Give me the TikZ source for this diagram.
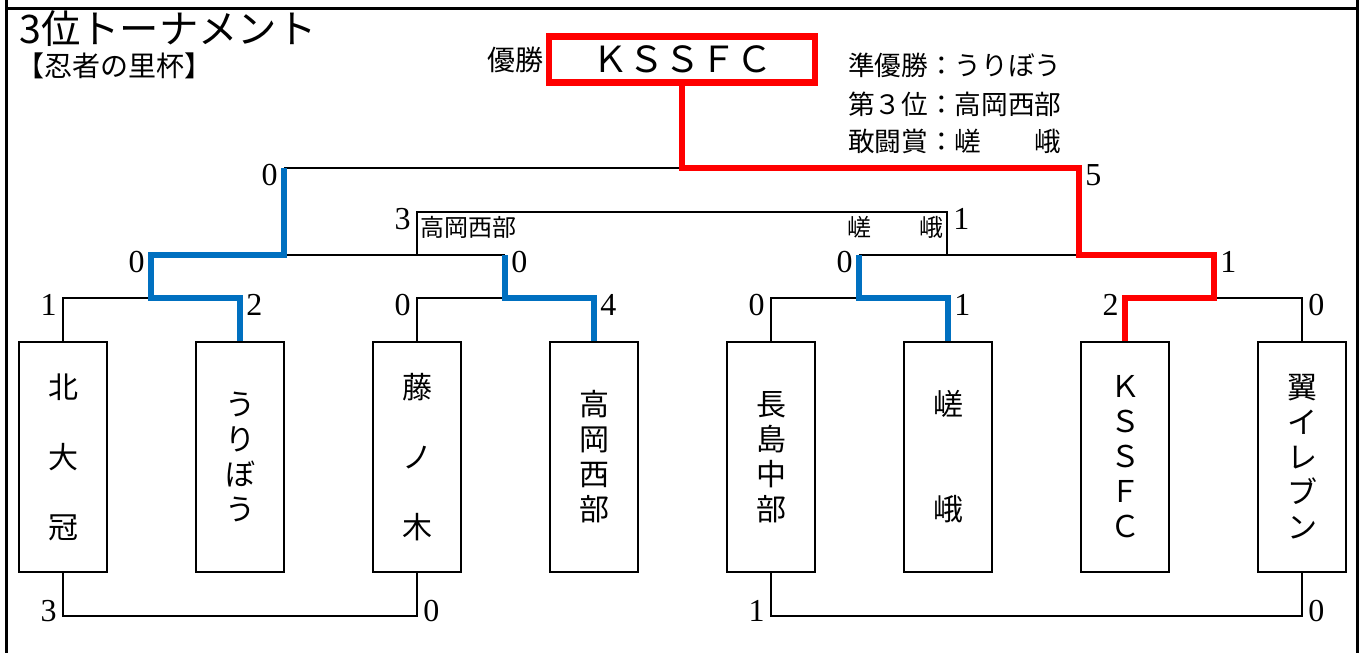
\documentclass[tikz,border=0pt]{standalone}
\usepackage{fontspec}
\setmainfont{Liberation Serif}
\newfontfamily\jp{Noto Sans CJK JP}
\usetikzlibrary{positioning}
\definecolor{winblue}{RGB}{0,112,192}
\definecolor{winred}{RGB}{255,0,0}
\begin{document}
\begin{tikzpicture}[x=0.75pt, y=-0.75pt,
		bk/.style={line width=1.9pt},
		bl/.style={winblue, line width=4.9pt},
		rd/.style={winred, line width=4.9pt},
		team/.style={draw, line width=2pt, minimum width=66pt, minimum height=172.5pt, inner sep=0pt, align=center, font=\jp\fontsize{22.5}{26.25}\selectfont},
		lscore/.style={anchor=north east, inner sep=0pt, font=\fontsize{24}{24}\selectfont},
		rscore/.style={anchor=north west, inner sep=0pt, font=\fontsize{24}{24}\selectfont},
		info/.style={anchor=west, inner sep=0pt, font=\jp\fontsize{20}{20}\selectfont}]
		\useasboundingbox (0,0) rectangle (1363,653);
		\draw[line width=2.25pt] (6,0) -- (6,653) (1357,0) -- (1357,653) (6,8.5) -- (1357,8.5);
		\node[anchor=west, inner sep=0pt, font=\jp\fontsize{29.5}{29.5}\selectfont] (title) at (19,29) {3位トーナメント};
		\node[anchor=west, inner sep=0pt, font=\jp\fontsize{21}{21}\selectfont] (cup) at (16,65.5) {【忍者の里杯】};
		\node[draw=winred, line width=4.9pt, minimum width=199.8pt, minimum height=34.8pt, inner sep=0pt, font=\jp\fontsize{27}{27}\selectfont] (champ) at (682,59.5) {ＫＳＳＦＣ};
		\node[left=1pt of champ, inner sep=0pt, font=\jp\fontsize{21}{21}\selectfont] (yusho) {優勝};
		\node[info] (runner) at (848,65) {準優勝：うりぼう};
		\node[info] (third) at (848,104) {第３位：高岡西部};
		\node[info] (fight) at (848,141) {敢闘賞：嵯　　峨};
		\foreach \i/\nm in {1/北\\　\\大\\　\\冠, 2/う\\り\\ぼ\\う, 3/藤\\　\\ノ\\　\\木, 4/高\\岡\\西\\部, 5/長\\島\\中\\部, 6/嵯\\　\\　\\峨, 7/Ｋ\\Ｓ\\Ｓ\\Ｆ\\Ｃ, 8/翼\\イ\\レ\\ブ\\ン}
			\node[team] (t\i) at (63+177*\i-177, 457) {\nm};
		\coordinate (q1) at (151,298);
		\coordinate (q2) at (505,298);
		\coordinate (q3) at (859,298);
		\coordinate (q4) at (1214,298);
		\coordinate (s1) at (284,255);
		\coordinate (s2) at (1079,255);
		\coordinate (f1) at (284,168);
		\coordinate (fc) at (682,168);
		\coordinate (p1) at (417,212);
		\coordinate (p2) at (947,212);
		\coordinate (c1) at (240,616);
		\coordinate (c2) at (1036,616);
		\draw[bk] (t1.north) |- (q1);
		\draw[bk] (t3.north) |- (q2);
		\draw[bk] (t5.north) |- (q3);
		\draw[bk] (t8.north) |- (q4);
		\draw[bk] (s1) -- (q2 |- s1);
		\draw[bk] (q3 |- s2) -- (s2);
		\draw[bk] (f1) -- (fc);
		\draw[bk] (p1 |- s1) -- (p1) -- (p2) -- (p2 |- s2);
		\draw[bk] (t1.south) |- (c1) -| (t3.south);
		\draw[bk] (t5.south) |- (c2) -| (t8.south);
		\draw[bl] (t2.north) |- (q1) |- (s1) -- (f1);
		\draw[bl] (t4.north) |- (q2) -- (q2 |- s1);
		\draw[bl] (t6.north) |- (q3) -- (q3 |- s2);
		\draw[rd] (t7.north) |- (q4) |- (s2) |- (fc) -- (champ.south);
		\node[anchor=west, inner sep=0pt, font=\jp\fontsize{18}{18}\selectfont] (thirdl) at (420,227) {高岡西部};
		\node[anchor=east, inner sep=0pt, font=\jp\fontsize{18}{18}\selectfont] (thirdr) at (944,227) {嵯　　峨};
		\foreach \x/\y/\s [count=\k] in {57/294/1, 411/294/0, 765/294/0, 1119/294/2, 145/251/0, 853/251/0, 278/164/0, 411/208/3}
			\node[lscore] (ls\k) at (\x,\y) {\s};
		\foreach \x/\y/\s [count=\k] in {246/294/2, 600/294/4, 954/294/1, 1308/294/0, 511/251/0, 1220/251/1, 1085/164/5, 953/208/1}
			\node[rscore] (rs\k) at (\x,\y) {\s};
		\node[lscore, anchor=south east] (bs1) at (57,622) {3};
		\node[rscore, anchor=south west] (bs2) at (423,622) {0};
		\node[lscore, anchor=south east] (bs3) at (765,622) {1};
		\node[rscore, anchor=south west] (bs4) at (1308,622) {0};
\end{tikzpicture}
\end{document}
